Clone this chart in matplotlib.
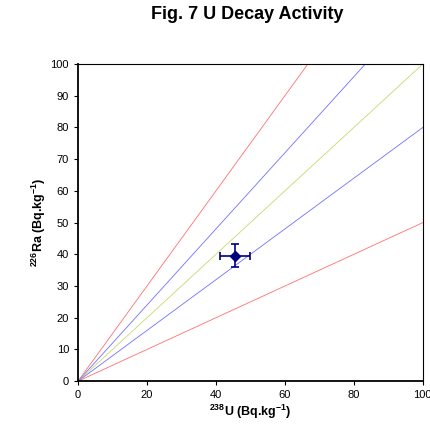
import matplotlib.pyplot as plt

plt.rcParams['font.family'] = ['Liberation Sans', 'DejaVu Sans']
plt.rcParams['mathtext.fontset'] = 'custom'
plt.rcParams['mathtext.bf'] = 'Liberation Sans:bold'
plt.rcParams['mathtext.rm'] = 'Liberation Sans:bold'

# ratio lines Ra/U through origin
slopes = [1.5, 1.2, 1.0, 0.8, 0.5]
line_colors = ['#ff7070', '#7070ff', '#c8d870', '#7070ff', '#ff7070']

# measured point
u_val = [45.5]
ra_val = [39.5]
u_err = [4.4]
ra_err = [3.6]

fig = plt.figure(figsize=(4.31, 4.24), dpi=100)
ax = fig.add_axes([0.181, 0.101, 0.8, 0.748])

xs = [0, 100]
for s, c in zip(slopes, line_colors):
    ax.plot(xs, [x * s for x in xs], color=c, lw=0.6)

ax.errorbar(u_val, ra_val, xerr=u_err, yerr=ra_err, fmt='D', color='#000080',
            ms=5, elinewidth=1.2, capsize=3, capthick=1.2)

ax.set_xlim(0, 100)
ax.set_ylim(0, 100)
ax.set_xticks(range(0, 101, 20))
ax.set_yticks(range(0, 101, 10))
ax.tick_params(labelsize=8, length=3, width=0.8)
for sp in ax.spines.values():
    sp.set_linewidth(0.8)
ax.spines['left'].set_linewidth(1.3)
ax.spines['bottom'].set_linewidth(1.3)

ax.set_xlabel(r'$\mathrm{^{238}}$U (Bq.kg$\mathrm{^{-1}}$)', fontsize=9, fontweight='bold', labelpad=2)
ax.set_ylabel(r'$\mathrm{^{226}}$Ra (Bq.kg$\mathrm{^{-1}}$)', fontsize=9, fontweight='bold', labelpad=2)
fig.suptitle('Fig. 7 U Decay Activity', x=0.573, y=0.985, fontsize=13, fontweight='bold')

fig.savefig('out.png', dpi=100)
